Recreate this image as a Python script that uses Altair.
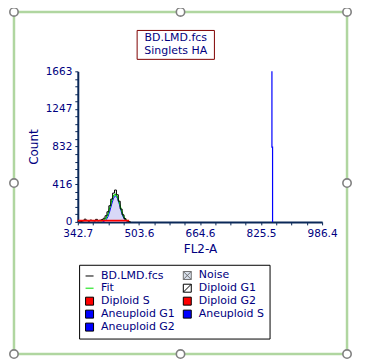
import json
import altair as alt
import pandas as pd

# ---------------- data ----------------
x_major = [342.7, 503.6, 664.6, 825.5, 986.4]
y_major = [0, 416, 832, 1247, 1663]

# measured histogram (BD.LMD.fcs)
hist_x = [342.7, 347, 352, 357, 362, 367, 372, 377, 382, 387, 392, 397, 402, 407,
          412, 417, 422, 427, 432, 437, 442, 447, 452, 457, 462, 467, 472, 477, 482]
hist_y = [6, 10, 4, 12, 30, 16, 8, 20, 14, 10, 28, 12, 18, 26,
          40, 68, 112, 178, 252, 318, 352, 300, 228, 142, 78, 36, 14, 4, 0]

# overall fit
fit_x = [402, 407, 412, 417, 422, 427, 432, 437, 442, 447, 452, 457, 462, 467, 472, 476]
fit_y = [12, 14, 22, 42, 88, 158, 236, 290, 305, 280, 215, 138, 74, 34, 14, 0]

# Diploid G1 component
g1_x = [408, 412, 417, 422, 427, 432, 437, 442, 447, 452, 457, 462, 467, 472, 475]
g1_y = [0, 6, 22, 56, 118, 196, 262, 290, 262, 196, 118, 56, 22, 6, 0]

# Diploid S component
ds_x = [342.7, 380, 420, 460, 478]
ds_y = [15, 15, 15, 14, 14]

# Aneuploid G1 component (narrow spike)
an_x = [854.2, 854.2, 855.9, 855.9]
an_y = [1663, 826, 826, 0]

legend_names = ["BD.LMD.fcs", "Noise", "Fit", "Diploid G1", "Diploid S",
                "Diploid G2", "Aneuploid G1", "Aneuploid S", "Aneuploid G2"]
legend_fill = ["#000000", "#d8e0ec", "#00e000", "#ffffff", "#ff0000",
               "#ff0000", "#0000ff", "#0000ff", "#0000ff"]
legend_stroke = ["#000000", "#707070", "#00e000", "#000000", "#000000",
                 "#000000", "#000000", "#000000", "#000000"]
legend_shape = ["stroke",
                "M-1,-1H1V1H-1Z M-1,-1L1,1 M-1,1L1,-1",
                "stroke",
                "M-1,-1H1V1H-1Z M-1,1L1,-1",
                "square", "square", "square", "square", "square"]

title_lines = ["BD.LMD.fcs", "Singlets HA"]

# ---------------- styling ----------------
NAVY = "#000080"
AXIS = "#0a2858"
FONT = "DejaVu Sans"
W, H = 245, 151


def subdivide(vals, n):
    out = []
    for a, b in zip(vals[:-1], vals[1:]):
        for k in range(n):
            out.append(a + (b - a) * k / n)
    out.append(vals[-1])
    return out


x_ticks = subdivide(x_major, 4)
y_ticks = subdivide(y_major, 5)

x_scale = alt.Scale(domain=[x_major[0], x_major[-1]], nice=False, zero=False)
y_scale = alt.Scale(domain=[y_major[0], y_major[-1]], nice=False, zero=False)

x_axis = alt.Axis(
    values=x_ticks, title="FL2-A", grid=False,
    labelExpr="indexof(%s, datum.value) >= 0 ? format(datum.value, '.1f') : ''" % json.dumps(x_major),
    labelOverlap=False, labelFlush=False,
    domainColor=AXIS, domainWidth=2, tickColor=AXIS, tickSize=3, tickWidth=1,
    labelFont=FONT, labelFontSize=10.5, labelColor=NAVY, labelPadding=4,
    titleFont=FONT, titleFontSize=12, titleFontWeight="normal", titleColor=NAVY,
    titlePadding=4)
y_axis = alt.Axis(
    values=y_ticks, title="Count", grid=False,
    labelExpr="indexof(%s, datum.value) >= 0 ? format(datum.value, 'd') : ''" % json.dumps(y_major),
    labelOverlap=False, labelFlush=False,
    domainColor=AXIS, domainWidth=2, tickColor=AXIS, tickSize=3, tickWidth=1,
    labelFont=FONT, labelFontSize=10.5, labelColor=NAVY, labelPadding=3,
    titleFont=FONT, titleFontSize=12, titleFontWeight="normal", titleColor=NAVY,
    titlePadding=5)

hist_df = pd.DataFrame({"x": hist_x, "y": hist_y})
fit_df = pd.DataFrame({"x": fit_x, "y": fit_y})
g1_df = pd.DataFrame({"x": g1_x, "y": g1_y})
ds_df = pd.DataFrame({"x": ds_x, "y": ds_y})
an_df = pd.DataFrame({"x": an_x, "y": an_y, "i": list(range(len(an_x)))})
leg_df = pd.DataFrame({"series": legend_names})

X = alt.X("x:Q", scale=x_scale, axis=x_axis)
Y = alt.Y("y:Q", scale=y_scale, axis=y_axis)

g1_area = alt.Chart(g1_df).mark_area(color="#c8c8f4", line={"color": "#0000ff", "strokeWidth": 1}).encode(x=X, y=Y)
fit_line = alt.Chart(fit_df).mark_line(color="#00e000", strokeWidth=1.2).encode(x=X, y=Y)
hist_line = alt.Chart(hist_df).mark_line(color="#000000", strokeWidth=1, interpolate="step").encode(x=X, y=Y)
ds_line = alt.Chart(ds_df).mark_line(color="#ff0000", strokeWidth=1.8).encode(x=X, y=Y)
an_line = alt.Chart(an_df).mark_line(color="#0000ff", strokeWidth=1.2).encode(
    x=X, y=Y, order=alt.Order("i:Q"))

legend_layer = alt.Chart(leg_df).mark_point(filled=True, opacity=0).encode(
    x=alt.value(0), y=alt.value(0),
    fill=alt.Fill("series:N", scale=alt.Scale(domain=legend_names, range=legend_fill),
                  legend=alt.Legend(
                      orient="none", legendX=1.3, legendY=194, columns=2, direction="horizontal",
                      title=None,
                      labelFont=FONT, labelFontSize=11, labelColor=NAVY, labelLimit=200,
                      symbolSize=64, symbolStrokeWidth=1, symbolOpacity=1,
                      strokeColor="#000000", fillColor="#ffffff", padding=5,
                      rowPadding=0, columnPadding=5, labelOffset=6)),
    stroke=alt.Stroke("series:N", scale=alt.Scale(domain=legend_names, range=legend_stroke)),
    shape=alt.Shape("series:N", scale=alt.Scale(domain=legend_names, range=legend_shape)),
)

# ----- decoration: selection frame with handles, title box -----
one = alt.Data(values=[{}])
FL, FR, FT, FB = -64, 270, -59.5, 283.5
frame = alt.Chart(one).mark_rect(fill=None, stroke="#b0d6a0", strokeWidth=2.5).encode(
    x=alt.value(FL), x2=alt.value(FR), y=alt.value(FT), y2=alt.value(FB))
hx, hy = [], []
for yy in [FT, (FT + FB) / 2, FB]:
    for xx in [FL, (FL + FR) / 2, FR]:
        if xx == (FL + FR) / 2 and yy == (FT + FB) / 2:
            continue
        hx.append(xx)
        hy.append(yy)
handles = alt.Chart(pd.DataFrame({"hx": hx, "hy": hy})).mark_point(
    shape="circle", size=70, filled=True, fill="#ffffff", stroke="#808080", strokeWidth=1.6, opacity=1
).encode(x=alt.X("hx:Q", scale=None), y=alt.Y("hy:Q", scale=None))

TB_L, TB_R, TB_T, TB_B = 59.5, 137, -41, -12
tbox = alt.Chart(one).mark_rect(fill="#ffffff", stroke="#800000", strokeWidth=1).encode(
    x=alt.value(TB_L), x2=alt.value(TB_R), y=alt.value(TB_T), y2=alt.value(TB_B))
tlines = []
for k, line in enumerate(title_lines):
    tlines.append(alt.Chart(one).mark_text(
        text=line, font=FONT, fontSize=11, color=NAVY, align="center", baseline="middle"
    ).encode(x=alt.value((TB_L + TB_R) / 2), y=alt.value(TB_T + 8 + 13 * k)))

chart = alt.layer(
    frame, handles, tbox, *tlines,
    g1_area, fit_line, hist_line, ds_line, an_line, legend_layer
).properties(
    width=W, height=H,
    autosize=alt.AutoSizeParams(type="none"),
    padding={"left": 70, "top": 63, "right": 35, "bottom": 138},
).configure_view(stroke=None).configure_legend(
    symbolFillColor="#ffffff", symbolStrokeColor="#000000"
).resolve_scale(x="shared", y="shared")

chart.save("out.html", embed_options={"renderer": "svg", "actions": False})
